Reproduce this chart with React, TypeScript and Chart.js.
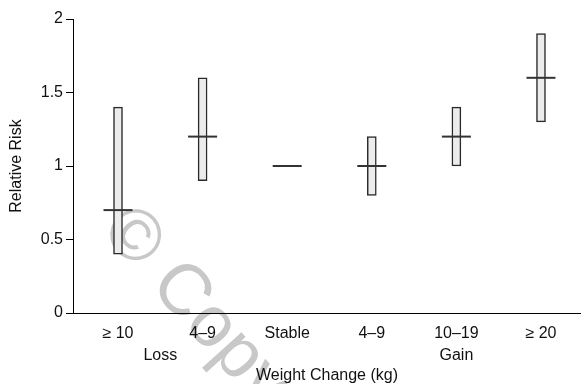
import React, { useEffect, useRef } from 'react';
import { Chart, registerables } from 'chart.js';

Chart.register(...registerables);

const categories = ['≥ 10', '4–9', 'Stable', '4–9', '10–19', '≥ 20'];
const lowerCI = [0.4, 0.9, 1.0, 0.8, 1.0, 1.3];
const upperCI = [1.4, 1.6, 1.0, 1.2, 1.4, 1.9];
const relativeRisk = [0.7, 1.2, 1.0, 1.0, 1.2, 1.6];
const groupLabels = ['Loss', 'Gain'];
const groupFrom = [0, 4];
const groupTo = [1, 4];
const yTicks = [0, 0.5, 1, 1.5, 2];
const yTitle = 'Relative Risk';
const xTitle = 'Weight Change (kg)';
const watermark = '© Copyright';

const FONT = '"Liberation Sans", Arial, Helvetica, sans-serif';
const TEXT = '#111111';

const extras = {
  id: 'extras',
  beforeDraw(chart: any) {
    const ctx = chart.ctx;
    ctx.save();
    ctx.fillStyle = '#c8c8c8';
    ctx.font = `72px ${FONT}`;
    ctx.translate(132, 238);
    ctx.rotate((48 * Math.PI) / 180);
    ctx.textBaseline = 'middle';
    ctx.textAlign = 'left';
    const w = ctx.measureText('©').width;
    ctx.fillText(watermark, -w / 2, 0);
    ctx.restore();
  },
  afterDraw(chart: any) {
    const ctx = chart.ctx;
    const xs = chart.scales.x;
    const ys = chart.scales.y;
    const area = chart.chartArea;
    ctx.save();
    ctx.fillStyle = TEXT;
    ctx.font = `16px ${FONT}`;
    ctx.textAlign = 'center';
    ctx.textBaseline = 'middle';
    ctx.save();
    ctx.translate(17, (ys.top + ys.bottom) / 2);
    ctx.rotate(-Math.PI / 2);
    ctx.fillText(yTitle, 0, 0);
    ctx.restore();
    groupLabels.forEach((g, i) => {
      const cx = (xs.getPixelForValue(groupFrom[i]) + xs.getPixelForValue(groupTo[i])) / 2;
      ctx.fillText(g, cx, area.bottom + 43);
    });
    ctx.fillText(xTitle, (area.left + area.right) / 2, area.bottom + 63);
    ctx.restore();
  },
};

export default function App() {
  const ref = useRef<HTMLCanvasElement | null>(null);

  useEffect(() => {
    if (!ref.current) return;
    const barData = categories.map((_, i) =>
      lowerCI[i] === upperCI[i] ? { x: i, y: null } : { x: i, y: [lowerCI[i], upperCI[i]] }
    );
    const pointData = categories.map((_, i) => ({ x: i, y: relativeRisk[i] }));
    const chart = new Chart(ref.current, {
      type: 'bar',
      data: {
        datasets: [
          {
            type: 'line',
            label: 'Relative risk',
            data: pointData as any,
            showLine: false,
            pointStyle: 'line',
            pointRadius: 14.5,
            pointHoverRadius: 14.5,
            borderWidth: 2,
            borderColor: '#333333',
            backgroundColor: '#333333',
            clip: false,
            order: 0,
          } as any,
          {
            type: 'bar',
            label: '95% CI',
            data: barData as any,
            backgroundColor: '#ececec',
            borderColor: '#2a2a2a',
            borderWidth: 1.5,
            borderSkipped: false,
            barThickness: 9,
            order: 1,
          } as any,
        ],
      },
      options: {
        responsive: false,
        animation: false,
        events: [],
        layout: { autoPadding: false, padding: { top: 19, right: 0, left: 0, bottom: 0 } },
        plugins: { legend: { display: false }, tooltip: { enabled: false } },
        scales: {
          x: {
            type: 'linear',
            min: -0.532,
            max: 5.473,
            offset: false,
            afterFit: (s: any) => {
              s.height = 71;
              s.paddingLeft = 0;
              s.paddingRight = 0;
            },
            afterBuildTicks: (s: any) => {
              s.ticks = categories.map((_, i) => ({ value: i }));
            },
            grid: { display: false, drawTicks: false, offset: false },
            border: { display: true, color: '#000', width: 1 },
            ticks: {
              autoSkip: false,
              maxRotation: 0,
              padding: 11,
              color: TEXT,
              font: { family: FONT, size: 16 },
              callback: (v: any) => categories[v as number] ?? '',
            },
          },
          y: {
            min: 0,
            max: 2,
            afterFit: (s: any) => {
              s.width = 73;
            },
            afterBuildTicks: (s: any) => {
              s.ticks = yTicks.map((v) => ({ value: v }));
            },
            grid: {
              drawOnChartArea: false,
              drawTicks: true,
              tickLength: 7,
              color: '#000',
              lineWidth: 1,
            },
            border: { display: true, color: '#000', width: 1 },
            ticks: {
              padding: 3,
              color: TEXT,
              font: { family: FONT, size: 16 },
              callback: (v: any) => String(v),
            },
          },
        },
      },
      plugins: [extras],
    });
    return () => chart.destroy();
  }, []);

  return (
    <div style={{ position: 'fixed', left: 0, top: 0, width: 581, height: 384, background: '#fff' }}>
      <canvas ref={ref} width={581} height={384} style={{ display: 'block' }} />
    </div>
  );
}
